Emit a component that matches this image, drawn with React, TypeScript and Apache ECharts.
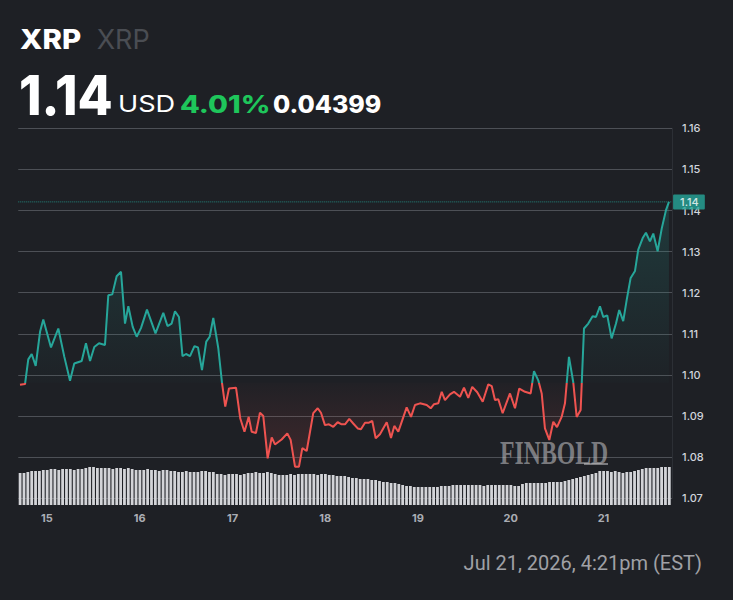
import React, { useEffect, useRef } from "react";
import * as echarts from "echarts";

// ---- data ----
const SYMBOL = "XRP";
const QUOTE = "USD";
const LAST_PRICE = 1.1421;
const CHANGE_ABS = 0.04399;
const CHANGE_PCT = 4.01;
const TIMESTAMP = "Jul 21, 2026, 4:21pm (EST)";

// time in days of July (fractional)
const priceDays = [
  14.709, 14.763, 14.798, 14.835, 14.878, 14.925, 14.96, 15.043, 15.122, 15.187,
  15.248, 15.294, 15.374, 15.42, 15.464, 15.51, 15.561, 15.625, 15.661, 15.704,
  15.751, 15.798, 15.841, 15.877, 15.924, 15.967, 16.013, 16.078, 16.17, 16.254,
  16.299, 16.344, 16.38, 16.423, 16.461, 16.499, 16.542, 16.59, 16.628, 16.671,
  16.717, 16.754, 16.793, 16.847, 16.887, 16.922, 16.962, 17.038, 17.084, 17.129,
  17.175, 17.207, 17.253, 17.296, 17.332, 17.379, 17.423, 17.458, 17.53, 17.591,
  17.627, 17.674, 17.717, 17.753, 17.8, 17.871, 17.919, 17.954, 17.997, 18.04,
  18.087, 18.134, 18.177, 18.213, 18.259, 18.302, 18.35, 18.385, 18.429, 18.472,
  18.507, 18.544, 18.59, 18.663, 18.709, 18.745, 18.788, 18.831, 18.878, 18.925,
  18.968, 19.022, 19.094, 19.137, 19.173, 19.219, 19.256, 19.291, 19.345, 19.388,
  19.453, 19.496, 19.542, 19.585, 19.639, 19.698, 19.758, 19.795, 19.83, 19.866,
  19.913, 19.992, 20.046, 20.092, 20.154, 20.215, 20.251, 20.297, 20.334, 20.369,
  20.416, 20.459, 20.499, 20.549, 20.585, 20.628, 20.675, 20.711, 20.754, 20.79,
  20.836, 20.883, 20.919, 20.962, 20.998, 21.041, 21.088, 21.135, 21.17, 21.213,
  21.25, 21.293, 21.34, 21.375, 21.423, 21.458, 21.501, 21.537, 21.584, 21.628,
  21.674, 21.706,
];

const prices = [
  1.0976, 1.0978, 1.1038, 1.1051, 1.1022, 1.1105, 1.1135, 1.1067, 1.1113, 1.1044,
  1.0986, 1.1028, 1.1034, 1.1077, 1.1034, 1.1068, 1.1077, 1.1073, 1.1194, 1.1196,
  1.124, 1.1251, 1.1125, 1.1167, 1.1117, 1.1093, 1.1114, 1.1159, 1.1101, 1.1151,
  1.1119, 1.1125, 1.1155, 1.1141, 1.1046, 1.1051, 1.1046, 1.107, 1.1067, 1.1012,
  1.1081, 1.1093, 1.1139, 1.1065, 1.0981, 1.0923, 1.0967, 1.0969, 1.0894, 1.0862,
  1.0898, 1.0862, 1.0859, 1.0908, 1.09, 1.0797, 1.0848, 1.0831, 1.0843, 1.0858,
  1.0842, 1.0777, 1.0777, 1.0822, 1.0815, 1.0907, 1.0919, 1.0908, 1.0878, 1.088,
  1.0874, 1.0885, 1.088, 1.088, 1.0893, 1.0882, 1.087, 1.0868, 1.0884, 1.0884,
  1.0888, 1.0846, 1.0856, 1.0885, 1.0847, 1.0876, 1.0862, 1.089, 1.0921, 1.0898,
  1.0927, 1.0931, 1.0927, 1.0919, 1.0929, 1.0931, 1.0959, 1.0939, 1.0953, 1.0959,
  1.0947, 1.0969, 1.0944, 1.0971, 1.0958, 1.0935, 1.0977, 1.0973, 1.0939, 1.0941,
  1.0907, 1.0955, 1.0919, 1.0967, 1.0959, 1.0955, 1.1009, 1.0987, 1.0955, 1.087,
  1.0842, 1.0886, 1.0873, 1.0898, 1.0931, 1.1044, 1.0981, 1.0898, 1.0915, 1.1113,
  1.1125, 1.1143, 1.1141, 1.1167, 1.1141, 1.1145, 1.1089, 1.1125, 1.1158, 1.1131,
  1.1182, 1.1236, 1.1253, 1.1305, 1.1333, 1.1346, 1.1325, 1.1344, 1.1301, 1.1356,
  1.1401, 1.1421,
];

// hourly volume bars (arbitrary units), first bar at day 14.71
const VOLUME_START_DAY = 14.71;
const volumes = [
  32, 32, 33,
  34, 34, 34, 35, 35,
  36, 36, 35, 36, 36, 36, 35, 36, 36,
  37, 38, 38, 37,
  37, 37, 37, 36, 37, 37, 36, 37, 36,
  35, 35, 35, 36, 35, 35, 34, 35, 35, 34, 34,
  33, 33, 34, 33, 33, 33, 34, 34, 33, 33,
  31, 31, 30, 31, 31, 31, 30, 31,
  32, 32, 33, 32, 32, 33,
  32, 31, 30, 30, 30, 31, 30,
  31, 31, 31, 31, 31, 30, 31, 31,
  30, 30, 29, 29, 29, 28,
  27, 27, 26, 26, 26, 25, 25,
  24, 23, 23, 22, 22,
  21, 20, 19, 19,
  18, 18, 18, 18, 18, 18, 18,
  19, 19, 19, 20,
  20, 20, 20, 20, 20, 20, 20, 19, 20, 20, 20, 20, 20, 20, 20, 19, 19,
  21, 22, 22, 22, 22, 22, 22, 23, 23,
  23, 23, 24,
  25, 26, 27, 28,
  29, 30, 31, 32,
  34, 34, 34, 33, 34, 33,
  32, 33, 33, 34,
  35, 36, 37, 37, 37,
  37, 38, 38, 38,
];

const xTickDays = [15, 16, 17, 18, 19, 20, 21];
const X_MIN = 14.69;
const X_MAX = 21.74;
const Y_MIN = 1.07;
const Y_MAX = 1.16;
const Y_STEP = 0.01;

// ---- styles ----
const BG = "#1e2025";
const TEAL = "#26a69a";
const RED = "#ef5350";
const GREEN = "#1ec65b";
const AXIS_TEXT = "#d1d4dc";
const HEAD_FONT = "Inter";

export default function App() {
  const ref = useRef<HTMLDivElement>(null);

  useEffect(() => {
    if (!ref.current) return;
    const chart = echarts.init(ref.current, undefined, { renderer: "svg" });
    const base = +(LAST_PRICE - CHANGE_ABS).toFixed(5);
    const linePts = priceDays.map((d, i) => [d, prices[i]]);
    const upPts = priceDays.map((d, i) => [d, Math.max(prices[i], base)]);
    const downPts = priceDays.map((d, i) => [d, Math.min(prices[i], base)]);
    const volPts = volumes.map((v, i) => [VOLUME_START_DAY + i / 24, v]);
    const tickPts = xTickDays.map((d) => [d, Y_MIN]);

    const grid = { left: 18.25, right: 60.9 };

    chart.setOption({
      animation: false,
      backgroundColor: BG,
      grid: [
        { ...grid, top: 128.3, bottom: 101.7 },
        { ...grid, top: 405, bottom: 95 },
      ],
      xAxis: [
        {
          type: "value",
          gridIndex: 0,
          min: X_MIN,
          max: X_MAX,
          axisLine: { show: false },
          axisTick: { show: false },
          splitLine: { show: false },
          axisLabel: { show: false },
        },
        { type: "value", gridIndex: 1, min: X_MIN, max: X_MAX, show: false },
      ],
      yAxis: [
        {
          type: "value",
          gridIndex: 0,
          position: "right",
          min: Y_MIN,
          max: Y_MAX,
          interval: Y_STEP,
          axisLine: { show: true, lineStyle: { color: "#2c2f35" } },
          axisTick: { show: false },
          splitLine: { show: true, lineStyle: { color: "#4d5056", width: 1 } },
          axisLabel: {
            formatter: (v: number) => v.toFixed(2),
            color: AXIS_TEXT,
            fontSize: 11,
            fontWeight: 500,
            fontFamily: "Inter",
            margin: 10,
          },
        },
        { type: "value", gridIndex: 1, min: 0, max: 100, show: false },
      ],
      visualMap: {
        type: "piecewise",
        show: false,
        seriesIndex: 0,
        dimension: 1,
        pieces: [
          { gte: Y_MIN - 1, lt: base, color: RED },
          { gte: base, lte: Y_MAX + 1, color: TEAL },
        ],
      },
      series: [
        {
          type: "line",
          xAxisIndex: 0,
          yAxisIndex: 0,
          data: linePts,
          showSymbol: false,
          lineStyle: { width: 2 },
          z: 5,
        },
        {
          type: "line",
          xAxisIndex: 0,
          yAxisIndex: 0,
          data: upPts,
          showSymbol: false,
          silent: true,
          lineStyle: { width: 0, opacity: 0 },
          areaStyle: {
            origin: base,
            color: {
              type: "linear", x: 0, y: 0, x2: 0, y2: 1,
              colorStops: [
                { offset: 0, color: "rgba(38,166,154,0.28)" },
                { offset: 1, color: "rgba(38,166,154,0.02)" },
              ],
            },
          },
          z: 3,
        },
        {
          type: "line",
          xAxisIndex: 0,
          yAxisIndex: 0,
          data: downPts,
          showSymbol: false,
          silent: true,
          lineStyle: { width: 0, opacity: 0 },
          areaStyle: {
            origin: base,
            color: {
              type: "linear", x: 0, y: 0, x2: 0, y2: 1,
              colorStops: [
                { offset: 0, color: "rgba(239,83,80,0.02)" },
                { offset: 1, color: "rgba(239,83,80,0.24)" },
              ],
            },
          },
          z: 3,
        },
        {
          type: "bar",
          xAxisIndex: 1,
          yAxisIndex: 1,
          data: volPts,
          barWidth: 2.8,
          itemStyle: { color: "#d3d4d8" },
          silent: true,
          z: 2,
        },
        // dotted last-price line
        {
          type: "line",
          xAxisIndex: 0,
          yAxisIndex: 0,
          data: [[X_MIN, LAST_PRICE], [X_MAX, LAST_PRICE]],
          showSymbol: false,
          silent: true,
          lineStyle: { color: "rgba(38,166,154,0.75)", type: "dotted", width: 1 },
          z: 4,
        },
        // last-price tag
        {
          type: "scatter",
          xAxisIndex: 0,
          yAxisIndex: 0,
          data: [[X_MAX, LAST_PRICE]],
          symbolSize: 0,
          silent: true,
          clip: false,
          label: {
            show: true,
            position: "right",
            distance: 1,
            formatter: () => LAST_PRICE.toFixed(2),
            backgroundColor: TEAL,
            color: "#ffffff",
            fontSize: 11,
            fontFamily: "Inter",
            fontWeight: 500,
            padding: [2, 6, 2, 7],
            borderRadius: 1,
          },
          z: 10,
        },
        // x-axis day labels
        {
          type: "scatter",
          xAxisIndex: 0,
          yAxisIndex: 0,
          data: tickPts,
          symbolSize: 0,
          silent: true,
          clip: false,
          label: {
            show: true,
            position: "bottom",
            distance: 14,
            formatter: (p: any) => String(p.value[0]),
            color: AXIS_TEXT,
            fontSize: 11,
            fontWeight: "bold",
            fontFamily: "Inter",
          },
          z: 10,
        },
      ],
      graphic: [
        {
          type: "text", x: 20, y: 39.3, scaleX: 1.09,
          style: { text: SYMBOL, fill: "#ffffff", fontSize: 27, fontWeight: 800, fontFamily: HEAD_FONT, verticalAlign: "middle" },
        },
        {
          type: "text", x: 96.7, y: 39.3,
          style: { text: SYMBOL, fill: "#4a4d53", fontSize: 27, fontWeight: 400, fontFamily: HEAD_FONT, verticalAlign: "middle" },
        },
        {
          type: "text", x: 19, y: 95.5, scaleX: 0.93,
          style: { text: LAST_PRICE.toFixed(2), fill: "#ffffff", fontSize: 55, fontWeight: 800, fontFamily: HEAD_FONT, verticalAlign: "middle" },
        },
        {
          type: "text", x: 118, y: 103.5, scaleX: 1.18,
          style: { text: QUOTE, fill: "#ffffff", fontSize: 23, fontWeight: 400, fontFamily: HEAD_FONT, verticalAlign: "middle" },
        },
        {
          type: "text", x: 180, y: 104, scaleX: 1.2,
          style: { text: CHANGE_PCT.toFixed(2) + "%", fill: GREEN, fontSize: 24, fontWeight: 800, fontFamily: HEAD_FONT, verticalAlign: "middle" },
        },
        {
          type: "text", x: 273, y: 104, scaleX: 1.04,
          style: { text: CHANGE_ABS.toFixed(5), fill: "#ffffff", fontSize: 24, fontWeight: 800, fontFamily: HEAD_FONT, verticalAlign: "middle" },
        },
        {
          type: "text", x: 702, y: 563,
          style: { text: TIMESTAMP, fill: "#a0a1a6", fontSize: 20, fontWeight: 400, fontFamily: "Roboto", align: "right", verticalAlign: "middle" },
        },
        {
          type: "text", x: 500, y: 453, scaleX: 0.72,
          style: { text: "FINBOLD", fill: "rgba(185,185,188,0.6)", fontSize: 33, fontWeight: 700, fontFamily: "Liberation Serif", verticalAlign: "middle" },
          z: 1,
        },
        {
          type: "rect", z: 1,
          shape: { x: 584, y: 463, width: 24, height: 2 },
          style: { fill: "rgba(185,185,188,0.6)" },
        },
      ],
    });

    return () => chart.dispose();
  }, []);

  return (
    <div
      ref={ref}
      style={{ position: "fixed", left: 0, top: 0, width: 733, height: 600 }}
    />
  );
}
